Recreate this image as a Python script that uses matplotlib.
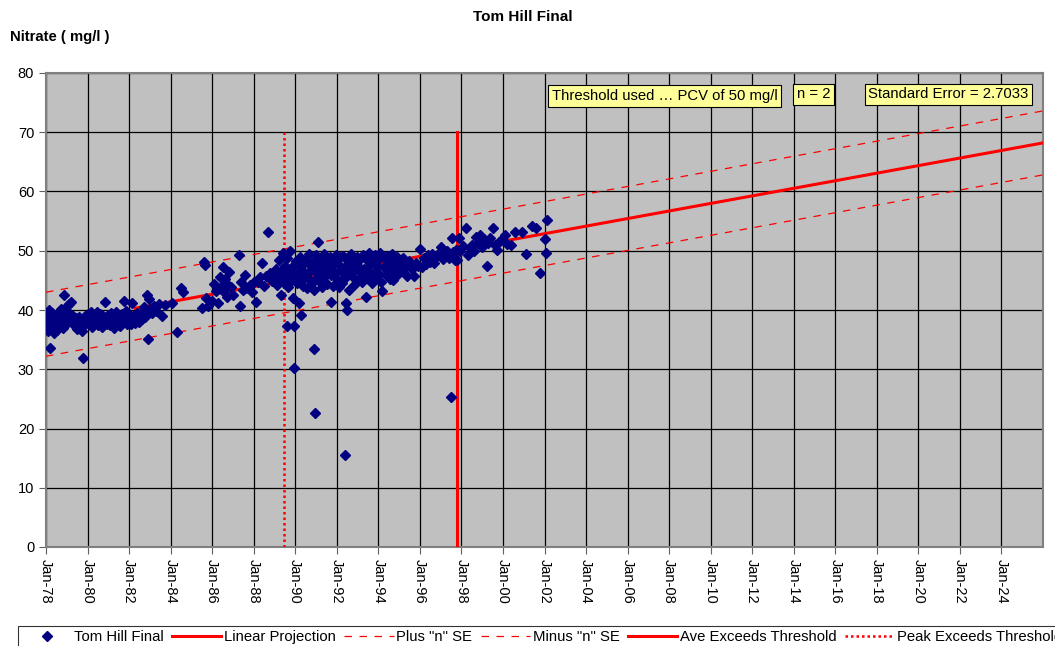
import matplotlib.pyplot as plt

plt.rcParams['font.family'] = ['Liberation Sans', 'DejaVu Sans']
plt.rcParams['font.size'] = 10.5

# Amostras (ano decimal) e nitrato (mg/l)
sample_year = [
    1978.05, 1978.08, 1978.10, 1978.12, 1978.15, 1978.18, 1978.20, 1978.22, 1978.25, 1978.30,
    1978.33, 1978.37, 1978.40, 1978.45, 1978.50, 1978.55, 1978.60, 1978.65, 1978.70, 1978.75,
    1978.80, 1978.85, 1978.90, 1978.95, 1979.00, 1979.05, 1979.10, 1979.15, 1979.20, 1979.25,
    1979.30, 1979.35, 1979.40, 1979.45, 1979.50, 1979.55, 1979.60, 1979.65, 1979.70, 1979.75,
    1979.80, 1979.85, 1979.90, 1979.95, 1980.00, 1980.05, 1980.10, 1980.15, 1980.20, 1980.25,
    1980.30, 1980.35, 1980.40, 1980.45, 1980.50, 1980.55, 1980.60, 1980.65, 1980.70, 1980.75,
    1980.80, 1980.85, 1980.90, 1980.95, 1981.00, 1981.05, 1981.10, 1981.15, 1981.20, 1981.25,
    1981.30, 1981.35, 1981.40, 1981.45, 1981.50, 1981.55, 1981.60, 1981.65, 1981.70, 1981.75,
    1981.80, 1981.85, 1981.90, 1981.95, 1982.00, 1982.05, 1982.10, 1982.15, 1982.20, 1982.25,
    1982.30, 1982.35, 1982.40, 1982.45, 1982.50, 1982.55, 1982.60, 1982.65, 1982.70, 1982.75,
    1982.80, 1982.85, 1982.90, 1982.95, 1983.00, 1983.10, 1983.20, 1983.30, 1983.45, 1983.60,
    1983.75,
    1984.05, 1984.30, 1984.50, 1984.60, 1985.50, 1985.60, 1985.65, 1985.70, 1985.80, 1986.00,
    1986.10, 1986.20, 1986.30, 1986.40, 1986.45, 1986.50, 1986.55, 1986.60, 1986.70, 1986.75,
    1986.80, 1986.90, 1987.00, 1987.30, 1987.35, 1987.40, 1987.50, 1987.60, 1987.65, 1987.80,
    1987.90, 1988.00, 1988.10, 1988.20, 1988.30, 1988.40, 1988.50, 1988.60, 1988.70, 1988.80,
    1988.90,
    1989.00, 1989.05, 1989.10, 1989.15, 1989.20, 1989.25, 1989.30, 1989.35, 1989.40, 1989.45,
    1989.50, 1989.55, 1989.60, 1989.62, 1989.65, 1989.70, 1989.75, 1989.80, 1989.85, 1989.90,
    1989.92, 1989.95, 1990.00, 1990.05, 1990.10, 1990.15, 1990.20, 1990.22, 1990.25, 1990.30,
    1990.32, 1990.35, 1990.40, 1990.45, 1990.50, 1990.55, 1990.60, 1990.65, 1990.70, 1990.75,
    1990.80, 1990.85, 1990.90, 1990.92, 1990.94, 1990.97, 1991.00, 1991.05, 1991.10, 1991.12,
    1991.15, 1991.20, 1991.25, 1991.30, 1991.35, 1991.40, 1991.45, 1991.50, 1991.55, 1991.60,
    1991.65, 1991.70, 1991.72, 1991.75, 1991.80, 1991.85, 1991.90, 1991.95, 1992.00, 1992.05,
    1992.10, 1992.15, 1992.20, 1992.25, 1992.30, 1992.35, 1992.40, 1992.42, 1992.45, 1992.50,
    1992.52, 1992.55, 1992.60, 1992.65, 1992.70, 1992.75, 1992.80, 1992.85, 1992.90, 1992.95,
    1993.00, 1993.05, 1993.10, 1993.15, 1993.20, 1993.25, 1993.30, 1993.35, 1993.40, 1993.45,
    1993.50, 1993.55, 1993.60, 1993.65, 1993.70, 1993.75, 1993.80, 1993.85, 1993.90, 1993.95,
    1994.00, 1994.05, 1994.10, 1994.15, 1994.20, 1994.25, 1994.30, 1994.35, 1994.40, 1994.45,
    1994.50, 1994.55, 1994.60, 1994.65, 1994.70, 1994.75, 1994.80, 1994.85, 1994.90, 1994.95,
    1995.00, 1995.10, 1995.20, 1995.30, 1995.40, 1995.50, 1995.60, 1995.70, 1995.80, 1995.90,
    1996.00, 1996.10, 1996.20, 1996.30, 1996.40, 1996.50, 1996.60, 1996.70, 1996.80, 1996.90,
    1997.00, 1997.10, 1997.20, 1997.30, 1997.40, 1997.50, 1997.55, 1997.60, 1997.70, 1997.75,
    1997.80, 1997.90, 1997.95,
    1998.10, 1998.20, 1998.30, 1998.40, 1998.50, 1998.60, 1998.70, 1998.80, 1998.90, 1999.00,
    1999.10, 1999.20, 1999.25, 1999.30, 1999.40, 1999.50, 1999.60, 1999.70, 1999.80, 1999.90,
    2000.10, 2000.20, 2000.40, 2000.60, 2000.90, 2001.10, 2001.40, 2001.60, 2001.80, 2002.00,
    2002.05, 2002.10,
]
nitrate = [
    37.5, 39.0, 36.5, 38.2, 40.0, 37.0, 33.6, 38.8, 36.8, 39.5,
    37.8, 36.2, 38.5, 37.2, 39.2, 36.6, 38.0, 37.4, 40.2, 38.6,
    36.9, 42.5, 39.8, 37.6, 40.6, 38.3, 41.0, 39.4, 41.3, 37.9,
    39.0, 38.1, 37.3, 38.7, 36.8, 37.8, 38.9, 37.0, 38.2, 36.4,
    31.9, 37.5, 39.0, 38.4, 39.4, 37.7, 38.8, 39.6, 37.2, 38.5,
    39.1, 37.9, 38.6, 39.7, 37.4, 38.9, 39.3, 38.0, 37.1, 39.0,
    38.3, 41.3, 38.7, 37.6, 39.2, 38.1, 37.4, 39.5, 38.4, 37.0,
    38.8, 39.6, 37.8, 38.5, 39.0, 37.3, 38.2, 39.4, 37.9, 41.5,
    38.6, 39.8, 37.6, 38.9, 39.3, 38.0, 37.7, 41.2, 39.0, 38.3,
    37.8, 38.8, 39.5, 38.1, 37.9, 39.2, 38.5, 39.8, 40.5, 38.8,
    39.6, 42.5, 35.1, 41.8, 40.2, 39.5, 40.6, 39.9, 41.0, 39.0,
    40.8,
    41.2, 36.3, 43.7, 43.0, 40.3, 48.1, 47.6, 42.0, 40.7, 41.5,
    44.4, 43.2, 41.2, 45.6, 44.0, 47.3, 43.0, 45.2, 42.2, 44.2,
    46.4, 43.8, 42.5, 49.3, 40.7, 44.7, 43.4, 45.9, 43.7, 44.3,
    43.1, 44.8, 41.4, 44.7, 45.5, 47.9, 44.1, 45.8, 53.2, 46.2,
    44.9,
    45.5, 47.0, 44.2, 46.3, 48.5, 45.0, 42.5, 46.8, 49.7, 44.6,
    47.5, 45.9, 37.3, 48.8, 43.8, 46.5, 49.9, 44.9, 47.2, 42.0,
    30.2, 37.3, 46.0, 48.3, 44.5, 47.6, 41.2, 45.3, 49.0, 39.2,
    46.7, 44.0, 47.9, 45.6, 48.6, 43.7, 46.2, 49.4, 45.1, 47.4,
    44.6, 48.1, 43.4, 33.4, 22.6, 46.6, 49.2, 45.4, 51.5, 47.8,
    44.9, 48.6, 46.1, 43.9, 47.3, 49.5, 45.7, 48.0, 44.4, 46.8,
    49.0, 41.4, 45.9, 47.6, 44.1, 48.7, 46.3, 49.3, 45.2, 47.8,
    43.8, 48.9, 46.5, 44.6, 49.1, 47.1, 15.5, 45.5, 41.2, 40.0,
    48.2, 46.0, 43.4, 47.5, 49.4, 45.8, 48.3, 44.2, 46.9, 49.0,
    47.4, 45.1, 48.6, 46.3, 44.7, 49.2, 47.0, 45.6, 42.2, 48.4,
    46.6, 49.6, 45.0, 47.8, 44.5, 48.9, 46.2, 49.3, 45.7, 47.5,
    48.5, 46.0, 49.7, 44.8, 43.2, 47.2, 48.8, 45.9, 49.1, 46.7,
    48.2, 45.3, 47.6, 49.4, 45.1, 46.4, 48.6, 47.0, 49.0, 46.1,
    47.9, 46.5, 48.7, 47.3, 45.8, 48.3, 47.0, 45.7, 48.0, 47.5,
    50.3, 47.3, 48.8, 47.8, 49.2, 48.1, 49.5, 47.9, 48.9, 49.7,
    50.6, 48.6, 49.4, 50.0, 48.8, 25.3, 52.1, 49.8, 48.4, 50.2,
    48.4, 52.1, 49.9,
    50.8, 53.8, 49.3, 50.5, 51.0, 50.0, 52.3, 51.3, 52.7, 50.6,
    51.9, 51.5, 47.4, 51.3, 52.2, 53.8, 50.9, 50.1, 51.5, 51.8,
    52.7, 51.2, 51.0, 53.2, 53.2, 49.5, 54.2, 53.8, 46.2, 52.0,
    49.6, 55.2,
]

# Projeção linear e limites (+/- n*SE)
proj_year = [1982.3, 2026.0]
proj_value = [40.3, 68.2]
band_year = [1978.0, 2026.0]
plus_se = [43.0, 73.6]
minus_se = [32.2, 62.8]
ave_exceeds_year = 1997.8
peak_exceeds_year = 1989.45
marker_top = 70

tick_years = list(range(1978, 2025, 2))
tick_labels = ['Jan-%02d' % (y % 100) for y in tick_years]

fig = plt.figure(figsize=(10.55, 6.46), dpi=100)
ax = fig.add_axes([46 / 1055, 1 - 547 / 646, (1043 - 46) / 1055, (547 - 73) / 646])
ax.set_facecolor('#c0c0c0')

ax.plot(proj_year, proj_value, color='red', lw=2.2, label='Linear Projection', zorder=3)
ax.plot(band_year, plus_se, color='red', lw=0.9, ls=(0, (6, 6)), label='Plus "n" SE', zorder=3)
ax.plot(band_year, minus_se, color='red', lw=0.9, ls=(0, (6, 6)), label='Minus "n" SE', zorder=3)
ax.plot([ave_exceeds_year, ave_exceeds_year], [0, marker_top], color='red', lw=2.2,
        label='Ave Exceeds Threshold', zorder=3)
ax.plot([peak_exceeds_year, peak_exceeds_year], [0, marker_top], color='red', lw=1.8,
        ls=(0, (1, 1.2)), label='Peak Exceeds Threshold', zorder=3)
ax.plot(sample_year, nitrate, ls='none', marker='D', ms=5.5, color='#000080',
        label='Tom Hill Final', zorder=4)

ax.set_xlim(1978, 2026)
ax.set_ylim(0, 80)
ax.set_xticks(tick_years)
ax.set_xticklabels(tick_labels, rotation=270)
ax.set_yticks(range(0, 81, 10))
ax.grid(True, color='black', lw=0.9)
ax.set_axisbelow(True)
for s in ax.spines.values():
    s.set_color('#808080')
    s.set_linewidth(1.5)
ax.tick_params(direction='out', length=5, color='#606060', labelsize=10.5)

box = dict(boxstyle='square,pad=0.25', fc='#ffff99', ec='black', lw=0.8)
ax.text(2002.35, 76.1, 'Threshold used \u2026 PCV of 50 mg/l', va='center', ha='left',
        fontsize=10.7, bbox=box, zorder=5)
ax.text(2014.95, 76.4, 'n = 2', va='center', ha='center', fontsize=10.7, bbox=box, zorder=5)
ax.text(2021.45, 76.4, 'Standard Error = 2.7033', va='center', ha='center',
        fontsize=10.7, bbox=box, zorder=5)

fig.text(0.496, 1 - 17 / 646, 'Tom Hill Final', ha='center', va='center', fontweight='bold', fontsize=11)
fig.text(10 / 1055, 1 - 37 / 646, 'Nitrate ( mg/l )', ha='left', va='center', fontweight='bold', fontsize=10.7)

handles, labels = ax.get_legend_handles_labels()
order = [5, 0, 1, 2, 3, 4]
leg = fig.legend([handles[i] for i in order], [labels[i] for i in order],
                 loc='upper left', bbox_to_anchor=(18 / 1055, 1 - 626 / 646), ncol=6,
                 frameon=True, fancybox=False, edgecolor='black', fontsize=10.7,
                 handlelength=3.3, handletextpad=0.2, columnspacing=0.55,
                 borderpad=0.3, borderaxespad=0)
leg.get_frame().set_linewidth(0.8)

fig.savefig('out.png', dpi=100)
